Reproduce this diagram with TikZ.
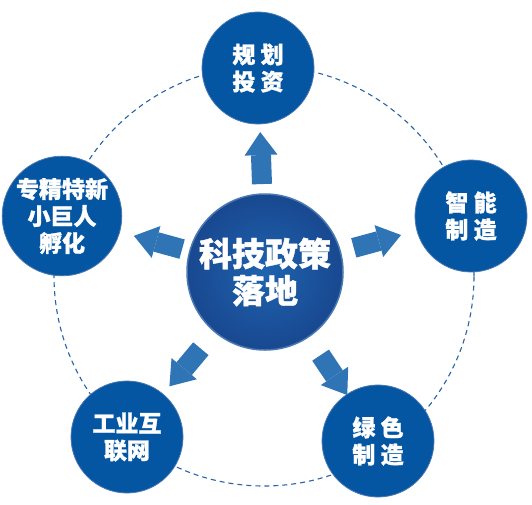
\documentclass[tikz,border=0pt]{standalone}
\usepackage{fontspec}
\newfontfamily\cjk{Noto Sans CJK SC}[BoldFont={Noto Sans CJK SC Black}, BoldFeatures={FakeBold=1.2}]
\usetikzlibrary{arrows.meta,calc}
\definecolor{nodeblue}{HTML}{0556A2}
\definecolor{rimblue}{HTML}{4A78B0}
\definecolor{arrowblue}{HTML}{2F74B5}
\definecolor{hubin}{HTML}{1F63AE}
\definecolor{hubout}{HTML}{184890}
\definecolor{ringblue}{HTML}{2A62A8}

\begin{document}
\begin{tikzpicture}[
    x=1pt, y=-1pt,
    topic/.style={circle, fill=nodeblue, draw=rimblue, line width=0.8pt, minimum size=112pt, inner sep=0pt, text=white, font=\cjk\bfseries\fontsize{23}{27}\selectfont, align=center},
    hubnode/.style={circle, inner color=hubin, outer color=hubout, draw=rimblue, line width=1.5pt, minimum size=156pt, inner sep=0pt, text=white, font=\cjk\bfseries\fontsize{33}{37}\selectfont, align=center},
    ring/.style={draw=ringblue, line width=1.1pt, dash pattern=on 5pt off 4pt},
    flowarrow/.style={draw=arrowblue, line width=20pt, -{Triangle[width=33pt, length=23pt, line width=0pt]}}
]
    \useasboundingbox (0,0) rectangle (532,504);

    % cerchio tratteggiato di sfondo
    \coordinate (mid) at (264,276);
    \draw[ring] (mid) circle (210pt);

    % nodo centrale
    \node[hubnode] (hub) at (265,272) {科技政策\\落地};

    % nodi esterni
    \node[topic] (plan) at (258,68) {规 划\\投 资};
    \node[topic] (smart) at (471,216) {智 能\\制 造};
    \node[topic] (green) at (378,441) {绿 色\\制 造};
    \node[topic] (net) at (127,437) {工业互\\联网};
    \node[topic] (incub) at (62,216) {专精特新\\小巨人\\孵化};

    % frecce
    \draw[flowarrow] ($(hub)!88pt!(plan)$) -- ($(hub)!140pt!(plan)$);
    \draw[flowarrow] ($(hub)!92pt!(smart)$) -- ($(hub)!141pt!(smart)$);
    \draw[flowarrow] ($(hub)!100pt!(green)$) -- ($(hub)!148pt!(green)$);
    \draw[flowarrow] ($(hub)!100pt!(net)$) -- ($(hub)!149pt!(net)$);
    \draw[flowarrow] ($(hub)!86pt!(incub)$) -- ($(hub)!136pt!(incub)$);
\end{tikzpicture}
\end{document}
